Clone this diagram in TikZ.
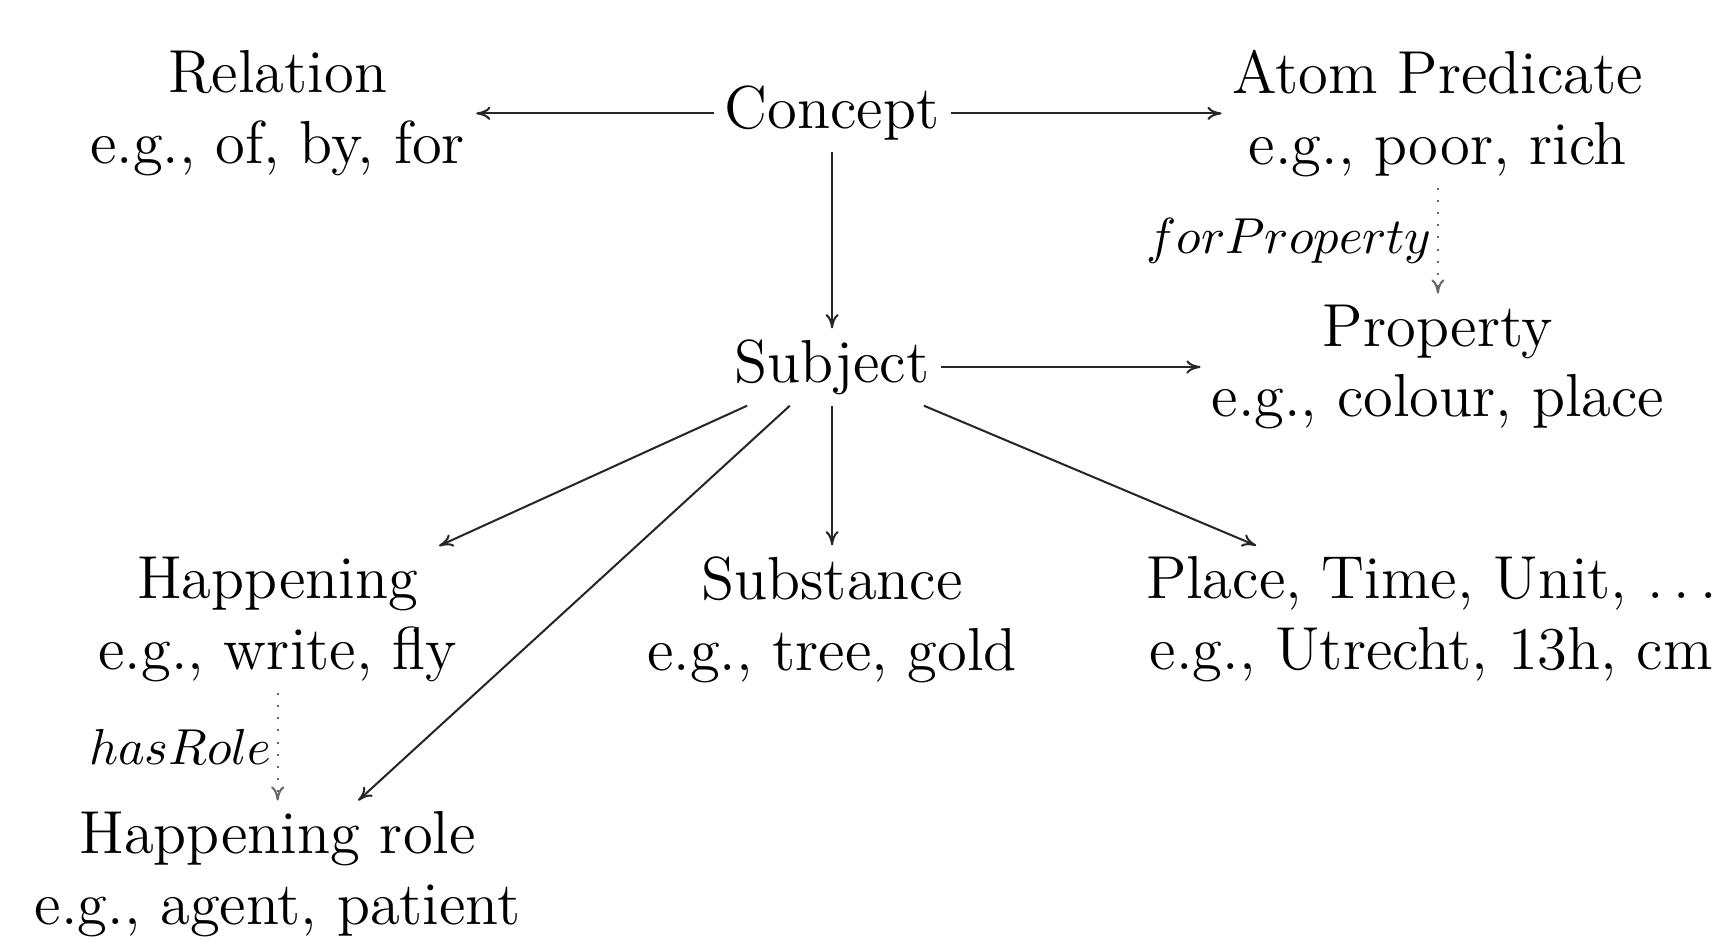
\documentclass[tikz,border=0pt]{standalone}
\usepackage{amsmath,amssymb}
\usepackage{tikz}
\usetikzlibrary{arrows.meta,positioning}

\tikzset{
  concept/.style={align=center,font=\large,inner sep=2pt},
  link/.style={-{To[length=2.8pt,width=2.6pt]},line width=0.4pt,black!85},
  rolelink/.style={-{To[length=2.8pt,width=2.6pt]},dotted,line width=0.4pt,black!60},
}

\begin{document}
\begin{tikzpicture}
  \useasboundingbox (0,0) rectangle (11.957,-6.566);
  \def\xa{1.929} \def\xb{5.781} \def\xc{9.99}
  \node[concept] (concept) at (\xb,-0.788) {Concept};
  \node[concept] (relation) at (\xa,-0.788) {Relation\\e.g., of, by, for};
  \node[concept] (atom) at (\xc,-0.788) {Atom Predicate\\e.g., poor, rich};
  \node[concept] (subject) at (\xb,-2.55) {Subject};
  \node[concept] (property) at (\xc,-2.55) {Property\\e.g., colour, place};
  \node[concept] (happening) at (\xa,-4.304) {Happening\\e.g., write, fly};
  \node[concept] (substance) at (\xb,-4.304) {Substance\\e.g., tree, gold};
  \node[concept] (place) at (9.945,-4.304) {Place, Time, Unit, $\ldots$\\e.g., Utrecht, 13h, cm};
  \node[concept] (role) at (\xa,-6.075) {Happening role\\e.g., agent, patient};
  \draw[link] (concept) -- (relation);
  \draw[link] (concept) -- (atom);
  \draw[link] (concept) -- (subject);
  \draw[link] (subject) -- (property);
  \draw[link] (subject) -- (happening);
  \draw[link] (subject) -- (role);
  \draw[link] (subject) -- (substance);
  \draw[link] (subject) -- (place);
  \draw[rolelink] (atom) -- node[midway,left,inner sep=1pt,text=black]{$forProperty$} (property);
  \draw[rolelink] (happening) -- node[midway,left,inner sep=1pt,text=black]{$hasRole$} (role);
\end{tikzpicture}
\end{document}
